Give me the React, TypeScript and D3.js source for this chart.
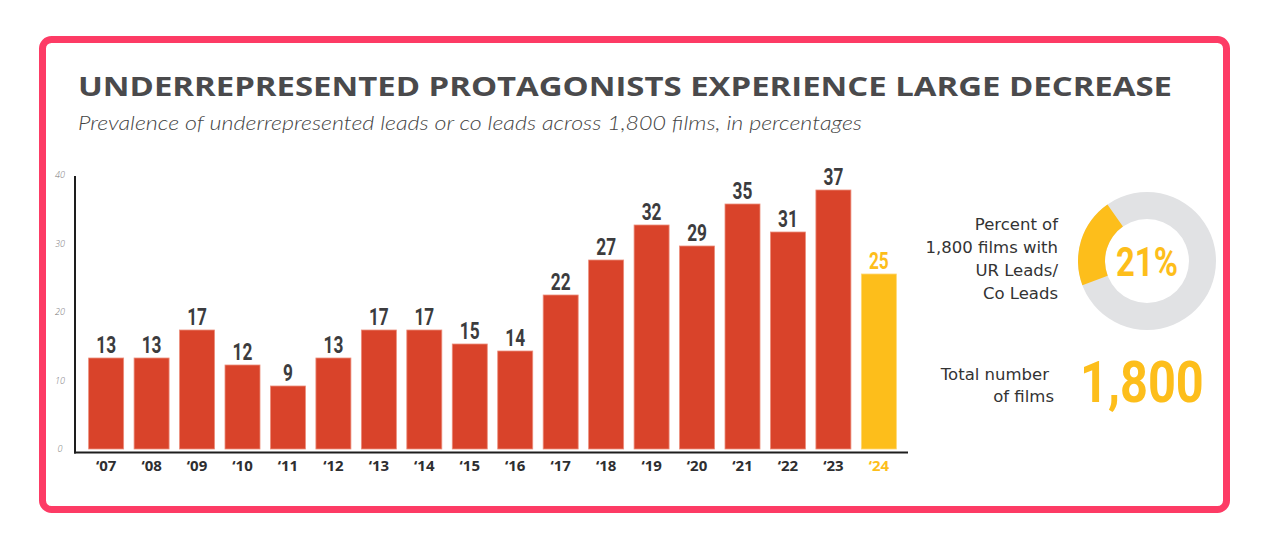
import React from 'react';
import * as d3 from 'd3';

const years = ['07', '08', '09', '10', '11', '12', '13', '14', '15', '16', '17', '18', '19', '20', '21', '22', '23', '24'];
const leadShare = [13, 13, 17, 12, 9, 13, 17, 17, 15, 14, 22, 27, 32, 29, 35, 31, 37, 25];
const yTicks = [0, 10, 20, 30, 40];
const overallShare = 21;
const totalFilms = '1,800';
const donutLabel = ['Percent of', '1,800 films with', 'UR Leads/', 'Co Leads'];
const totalLabel = ['Total number', 'of films'];

const RED = '#d9432a';
const YELLOW = '#fdbe1b';
const BORDER = '#fd3b65';
const DARK = '#3c3c3e';
const NUM_FONT = 'Roboto, "Liberation Sans", sans-serif';
const SANS = '"Open Sans", "Noto Sans", sans-serif';

// condensed bold numbers (no condensed face installed, so squeeze horizontally)
function Condensed({ x, y, size, fill, squeeze = 0.72, anchor = 'middle', children }: any) {
  return (
    <g transform={`translate(${x},${y}) scale(${squeeze},1)`}>
      <text textAnchor={anchor} fontFamily={NUM_FONT} fontWeight={700} fontSize={size} fill={fill}>
        {children}
      </text>
    </g>
  );
}

export default function App() {
  const width = 1272;
  const height = 549;

  // bar chart scales
  const x = d3.scaleBand<string>()
    .domain(years)
    .range([75, 910])
    .paddingInner(0.23)
    .paddingOuter(0.3);

  const y = d3.scaleLinear()
    .domain([0, 40])
    .range([449, 169]);

  const isLast = (i: number) => i === years.length - 1;

  // donut
  const cx = 1147;
  const cy = 261;
  const endA = (-35 * Math.PI) / 180;
  const startA = endA - (overallShare / 100) * Math.PI * 2;
  const arc = d3.arc<any>().innerRadius(42).outerRadius(69);
  const ring = arc({ startAngle: 0, endAngle: Math.PI * 2 }) || '';
  const slice = arc({ startAngle: startA, endAngle: endA }) || '';

  return (
    <div style={{ position: 'fixed', left: 0, top: 0 }}>
      <svg width={width} height={height} style={{ display: 'block', background: '#fff' }}>
        <rect x={42.5} y={39.5} width={1184} height={470} rx={9} fill="#fff" stroke={BORDER} strokeWidth={7} />

        <text x={78} y={96} fontFamily={SANS} fontWeight={700} fontSize={26} fill="#4a4a4c"
          textLength={1094} lengthAdjust="spacingAndGlyphs">
          UNDERREPRESENTED PROTAGONISTS EXPERIENCE LARGE DECREASE
        </text>
        <text x={78} y={130} fontFamily={'Lato, "Open Sans", sans-serif'} fontStyle="italic" fontWeight={300}
          fontSize={19} fill="#444" textLength={784} lengthAdjust="spacingAndGlyphs">
          Prevalence of underrepresented leads or co leads across 1,800 films, in percentages
        </text>

        {/* y tick labels */}
        {yTicks.map(t => (
          <text key={t} x={60} y={y(t) + 3 + t * 0.15} textAnchor="middle" fontFamily={SANS} fontStyle="italic"
            fontWeight={300} fontSize={9} fill="#777">{t}</text>
        ))}

        {/* bars */}
        {leadShare.map((v, i) => (
          <rect key={years[i]} x={x(years[i])} y={y(v)} width={x.bandwidth()} height={y(0) - y(v)}
            fill={isLast(i) ? YELLOW : RED} stroke={isLast(i) ? '#ffd873' : '#ec8e7c'} strokeWidth={0.8} />
        ))}

        {/* value labels */}
        {leadShare.map((v, i) => (
          <Condensed key={'v' + years[i]} x={(x(years[i]) || 0) + x.bandwidth() / 2} y={y(v) - 5}
            size={24} fill={isLast(i) ? YELLOW : DARK}>{v}</Condensed>
        ))}

        {/* axes */}
        <line x1={75} x2={75} y1={176} y2={453.5} stroke="#1e1e1e" strokeWidth={2} />
        <line x1={74} x2={908} y1={452.5} y2={452.5} stroke="#1e1e1e" strokeWidth={2} />

        {years.map((yr, i) => (
          <text key={'x' + yr} x={(x(yr) || 0) + x.bandwidth() / 2} y={471} textAnchor="middle"
            fontFamily={SANS} fontWeight={700} fontSize={15} fill={isLast(i) ? YELLOW : '#2e2e30'}>
            {'\u2018' + yr}
          </text>
        ))}

        {/* donut */}
        <g transform={`translate(${cx},${cy})`}>
          <path d={ring} fill="#e1e2e4" />
          <path d={slice} fill={YELLOW} />
        </g>
        <Condensed x={cx} y={cy + 15} size={41} squeeze={0.8} fill={YELLOW}>{overallShare}%</Condensed>

        {donutLabel.map((s, i) => (
          <text key={s} x={1058} y={230 + i * 23} textAnchor="end" fontFamily={'"DejaVu Sans", sans-serif'}
            fontSize={16.5} fill="#333">{s}</text>
        ))}

        {totalLabel.map((s, i) => (
          <text key={s} x={i === 0 ? 1049 : 1054} y={380 + i * 22} textAnchor="end"
            fontFamily={'"DejaVu Sans", sans-serif'} fontSize={16.5} fill="#333">{s}</text>
        ))}

        <Condensed x={1080} y={402} size={58} fill={YELLOW} anchor="start" squeeze={0.84}>{totalFilms}</Condensed>
      </svg>
    </div>
  );
}
